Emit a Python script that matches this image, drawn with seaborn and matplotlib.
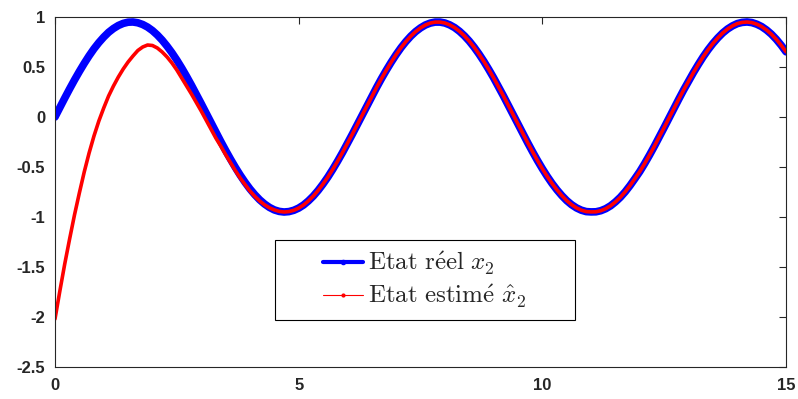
import numpy as np
import pandas as pd
import matplotlib
matplotlib.use("Agg")
import matplotlib.pyplot as plt
from matplotlib.lines import Line2D
from matplotlib.patches import Rectangle
import seaborn as sns

# sampling grid (s), one point every 0.1 s
t = np.linspace(0, 15, 151)

# real state x2
x2_real = [
    0.000, 0.095, 0.189, 0.281, 0.370, 0.455, 0.536, 0.612, 0.682, 0.744,
    0.799, 0.847, 0.885, 0.915, 0.936, 0.948, 0.950, 0.942, 0.925, 0.899,
    0.864, 0.820, 0.768, 0.708, 0.642, 0.569, 0.490, 0.406, 0.318, 0.227,
    0.134, 0.040, -0.055, -0.150, -0.243, -0.333, -0.420, -0.503, -0.581, -0.653,
    -0.719, -0.777, -0.828, -0.870, -0.904, -0.929, -0.944, -0.950, -0.946, -0.933,
    -0.911, -0.880, -0.839, -0.791, -0.734, -0.670, -0.600, -0.523, -0.441, -0.355,
    -0.265, -0.173, -0.079, 0.016, 0.111, 0.204, 0.296, 0.385, 0.469, 0.549,
    0.624, 0.693, 0.754, 0.808, 0.854, 0.891, 0.920, 0.939, 0.949, 0.949,
    0.940, 0.921, 0.894, 0.857, 0.812, 0.759, 0.698, 0.630, 0.556, 0.476,
    0.392, 0.303, 0.212, 0.118, 0.024, -0.071, -0.166, -0.258, -0.348, -0.435,
    -0.517, -0.594, -0.665, -0.729, -0.786, -0.836, -0.877, -0.909, -0.932, -0.946,
    -0.949, -0.948, -0.937, -0.917, -0.888, -0.849, -0.803, -0.748, -0.685, -0.616,
    -0.545, -0.465, -0.380, -0.291, -0.199, -0.105, -0.010, 0.084, 0.179, 0.271,
    0.358, 0.444, 0.525, 0.602, 0.672, 0.735, 0.791, 0.840, 0.880, 0.911,
    0.934, 0.946, 0.950, 0.944, 0.928, 0.904, 0.870, 0.828, 0.777, 0.718,
    0.652,
]

# estimated state: transient over the first 4.4 s, then it lies on x2
x2_est_start = [
    -2.02, -1.74, -1.47, -1.22, -0.98, -0.76, -0.55, -0.36, -0.19, -0.04,
    0.09, 0.21, 0.31, 0.40, 0.48, 0.55, 0.61, 0.665, 0.70, 0.72,
    0.715, 0.69, 0.65, 0.60, 0.54, 0.47, 0.39, 0.31, 0.23, 0.145,
    0.06, -0.03, -0.12, -0.21, -0.29, -0.375, -0.455, -0.535, -0.61, -0.675,
    -0.74, -0.793, -0.840, -0.878, -0.908,
]
x2_est = x2_est_start + x2_real[len(x2_est_start):]

labels = [r"$\mathrm{Etat\ r\acute{e}el}\ x_2$",
          r"$\mathrm{Etat\ estim\acute{e}}\ \hat{x}_2$"]
yticks = [-2.5, -2, -1.5, -1, -0.5, 0, 0.5, 1]
ytick_labels = ["-2.5", "-2", "-1.5", "-1", "-0.5", "0", "0.5", "1"]
xticks = [0, 5, 10, 15]

df = pd.DataFrame({"t": t, "real": x2_real, "est": x2_est})

sns.set_theme(style="white")
plt.rcParams["font.family"] = ["Liberation Sans", "DejaVu Sans"]
plt.rcParams["mathtext.fontset"] = "cm"

axcol = (0.15, 0.15, 0.15)
fig = plt.figure(figsize=(7.98, 3.99), dpi=100)
ax = fig.add_axes([0.0689, 0.0802, 0.9161, 0.8772])

sns.lineplot(data=df, x="t", y="real", color="blue", linewidth=5.5, ax=ax)
sns.lineplot(data=df, x="t", y="est", color="red", linewidth=2.6, ax=ax)
for ln in ax.lines:
    ln.set_solid_capstyle("round")
    ln.set_solid_joinstyle("round")

ax.set_xlim(0, 15)
ax.set_ylim(-2.5, 1)
ax.set_xticks(xticks)
ax.set_xticklabels([str(v) for v in xticks])
ax.set_yticks(yticks)
ax.set_yticklabels(ytick_labels)
ax.set_xlabel("")
ax.set_ylabel("")
ax.tick_params(direction="in", length=5, width=0.8, colors=axcol,
               top=True, right=True, labelsize=12, pad=7)
ax.tick_params(axis="x", pad=8)
for lab in ax.get_xticklabels() + ax.get_yticklabels():
    lab.set_fontweight("bold")
for sp in ax.spines.values():
    sp.set_color(axcol)
    sp.set_linewidth(0.8)

# legend box drawn on its own so it can be wider than its content
ax.add_patch(Rectangle((0.301, 0.134), 0.41, 0.229, transform=ax.transAxes,
                       facecolor="white", edgecolor="black", linewidth=0.8, zorder=4))
handles = [
    Line2D([], [], color="blue", linewidth=3, marker=".", markersize=6),
    Line2D([], [], color="red", linewidth=0.8, marker=".", markersize=4),
]
leg = ax.legend(handles, labels, loc="center", bbox_to_anchor=(0.506, 0.249),
                frameon=False, handlelength=1.6, handletextpad=0.2,
                labelspacing=0.25, fontsize=18)
leg.set_zorder(5)

fig.savefig("out.png", dpi=100)
